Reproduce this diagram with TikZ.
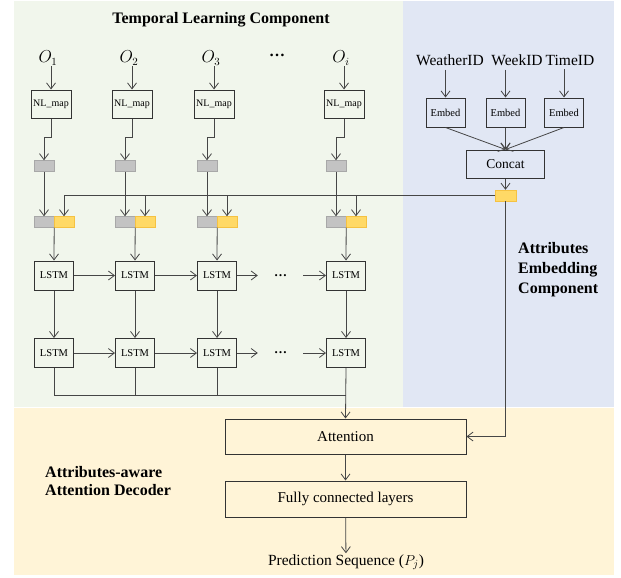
\documentclass[tikz,border=0pt]{standalone}
\usepackage{fontspec}
\setmainfont{Liberation Serif}
\usetikzlibrary{arrows.meta,calc,positioning}
\definecolor{bgGreen}{RGB}{241,246,236}
\definecolor{bgBlue}{RGB}{225,231,244}
\definecolor{bgYellow}{RGB}{255,244,215}
\definecolor{cellGray}{RGB}{195,195,195}
\definecolor{cellGrayLine}{RGB}{168,168,168}
\definecolor{cellYellow}{RGB}{255,217,102}
\definecolor{cellYellowLine}{RGB}{245,194,66}
\definecolor{lineGray}{RGB}{70,70,70}

\begin{document}
\begin{tikzpicture}[x=1pt,y=-1pt,
plainbox/.style={draw=black!80,line width=1pt,inner sep=1pt,font=\fontsize{10}{12}\selectfont},
nlbox/.style={plainbox,minimum width=40pt,minimum height=28pt},
lstm/.style={plainbox,minimum width=39pt,minimum height=29pt,font=\fontsize{10.5}{12}\selectfont},
embox/.style={plainbox,minimum width=39pt,minimum height=29pt,font=\fontsize{10.5}{12}\selectfont},
bigbox/.style={plainbox,minimum width=241pt,minimum height=35pt,font=\fontsize{15}{18}\selectfont},
gcell/.style={fill=cellGray,draw=cellGrayLine,minimum width=20pt,minimum height=11pt,inner sep=0pt},
ycell/.style={fill=cellYellow,draw=cellYellowLine,minimum width=20pt,minimum height=11pt,inner sep=0pt},
obs/.style={font=\fontsize{16}{18}\selectfont,inner sep=1pt},
idlabel/.style={font=\fontsize{15.5}{18}\selectfont,inner sep=1pt},
toplabel/.style={idlabel,inner sep=4pt},
dotsnode/.style={minimum width=45pt,inner sep=0pt,font=\fontsize{13}{14}\selectfont\bfseries},
heading/.style={font=\fontsize{16}{20}\selectfont\bfseries,align=left,inner sep=0pt},
arr/.style={draw=lineGray,line width=.8pt,-{Straight Barb[length=6pt,width=9pt]}},
wire/.style={draw=lineGray,line width=.8pt}]
\useasboundingbox (0,0) rectangle (621,578);
% panels
\fill[bgGreen] (14,1) rectangle (403,407);
\fill[bgBlue] (403,1) rectangle (614,407);
\fill[bgYellow] (14,408) rectangle (614,575);
\node[heading] (tlc) at (221,20) {Temporal Learning Component};
\node[heading,anchor=west] (aec) at (518,270) {Attributes\\Embedding\\Component};
\node[heading,anchor=west,font=\fontsize{16}{18}\selectfont\bfseries] (aad) at (45,481) {Attributes-aware\\Attention Decoder};
% temporal learning component
\node[obs] (O1) at (48,58) {$O_1$};
\node[obs] (O2) at (129,58) {$O_2$};
\node[obs] (O3) at (211,58) {$O_3$};
\node[obs,font=\fontsize{16}{18}\selectfont\bfseries] (Od) at (277,55) {\ldots};
\node[obs] (Oi) at (341,58) {$O_i$};
\node[nlbox] (N1) at (51,104) {NL\_map};
\node[nlbox] (N2) at (132,104) {NL\_map};
\node[nlbox] (N3) at (214,104) {NL\_map};
\node[nlbox] (Ni) at (344,104) {NL\_map};
\node[gcell] (G1) at (44,166) {};
\node[gcell] (G2) at (125,166) {};
\node[gcell] (G3) at (207,166) {};
\node[gcell] (Gi) at (336,166) {};
\node[gcell] (C1g) at (44,222) {};
\node[ycell] (C1y) at (64,222) {};
\node[gcell] (C2g) at (125,222) {};
\node[ycell] (C2y) at (145,222) {};
\node[gcell] (C3g) at (207,222) {};
\node[ycell] (C3y) at (227,222) {};
\node[gcell] (Cig) at (336,222) {};
\node[ycell] (Ciy) at (356,222) {};
\node[lstm] (L1) at (54,275.5) {LSTM};
\node[lstm] (L2) at (135,275.5) {LSTM};
\node[lstm] (L3) at (217,275.5) {LSTM};
\node[dotsnode] (Ld) at (280.5,275.5) {\ldots};
\node[lstm] (Li) at (346,275.5) {LSTM};
\node[lstm] (M1) at (54,353) {LSTM};
\node[lstm] (M2) at (135,353) {LSTM};
\node[lstm] (M3) at (217,353) {LSTM};
\node[dotsnode] (Md) at (280.5,353) {\ldots};
\node[lstm] (Mi) at (346,353) {LSTM};
\coordinate (join) at (346,395);
% attributes embedding component
\node[toplabel] (Wea) at (450,60) {WeatherID};
\node[toplabel] (Wee) at (517,60) {WeekID};
\node[toplabel] (Tim) at (570,60) {TimeID};
\node[embox] (E1) at (445.5,112.5) {Embed};
\node[embox] (E2) at (505.5,112.5) {Embed};
\node[embox] (E3) at (564,112.5) {Embed};
\node[plainbox,minimum width=78pt,minimum height=28pt,font=\fontsize{13.5}{16}\selectfont] (Cat) at (505.5,164) {Concat};
\node[ycell,minimum width=21pt] (AY) at (505.5,195.5) {};
% decoder
\node[bigbox] (Att) at (345.5,436.5) {Attention};
\node[bigbox,minimum height=36pt] (FC) at (345.5,499) {Fully connected layers};
\node[idlabel] (Pred) at (346,562) {Prediction Sequence ($P_j$)};
% connectors
\draw[arr] (O1.south -| N1.north) -- (N1.north);
\draw[arr] (O2.south -| N2.north) -- (N2.north);
\draw[arr] (O3.south -| N3.north) -- (N3.north);
\draw[arr] (Oi.south -| Ni.north) -- (Ni.north);
\draw[arr] (N1.south) -- ++(0,19) -| (G1.north);
\draw[arr] (N2.south) -- ++(0,19) -| (G2.north);
\draw[arr] (N3.south) -- ++(0,19) -| (G3.north);
\draw[arr] (Ni.south) -- ++(0,19) -| (Gi.north);
\draw[arr] (AY.west) -| (C1y.north);
\draw[arr] (AY.west -| C2y.north) -- (C2y.north);
\draw[arr] (AY.west -| C3y.north) -- (C3y.north);
\draw[arr] (AY.west -| Ciy.north) -- (Ciy.north);
\draw[arr] (G1.south) -- (C1g.north);
\draw[arr] (G2.south) -- (C2g.north);
\draw[arr] (G3.south) -- (C3g.north);
\draw[arr] (Gi.south) -- (Cig.north);
\draw[arr] (C1g.south east) -- (L1.north);
\draw[arr] (C2g.south east) -- (L2.north);
\draw[arr] (C3g.south east) -- (L3.north);
\draw[arr] (Cig.south east) -- (Li.north);
\draw[arr] (L1) -- (L2);
\draw[arr] (L2) -- (L3);
\draw[arr] (L3) -- (Ld);
\draw[arr] (Ld) -- (Li);
\draw[arr] (M1) -- (M2);
\draw[arr] (M2) -- (M3);
\draw[arr] (M3) -- (Md);
\draw[arr] (Md) -- (Mi);
\draw[arr] (L1) -- (M1);
\draw[arr] (L2) -- (M2);
\draw[arr] (L3) -- (M3);
\draw[arr] (Li) -- (Mi);
\draw[wire] (M1.south) |- (join);
\draw[wire] (M2.south) |- (join);
\draw[wire] (M3.south) |- (join);
\draw[arr] (Mi.south) -- (Att.north);
\draw[arr] (Wea.south -| E1.north) -- (E1.north);
\draw[arr] (Wee.south -| E2.north) -- (E2.north);
\draw[arr] (Tim.south -| E3.north) -- (E3.north);
\draw[arr] (E1.south) -- (Cat.north);
\draw[arr] (E2.south) -- (Cat.north);
\draw[arr] (E3.south) -- (Cat.north);
\draw[arr] (Cat.south) -- (AY.north);
\draw[arr] (AY.south) |- (Att.east);
\draw[arr] (Att) -- (FC);
\draw[arr] (FC) -- (Pred);
\end{tikzpicture}
\end{document}
